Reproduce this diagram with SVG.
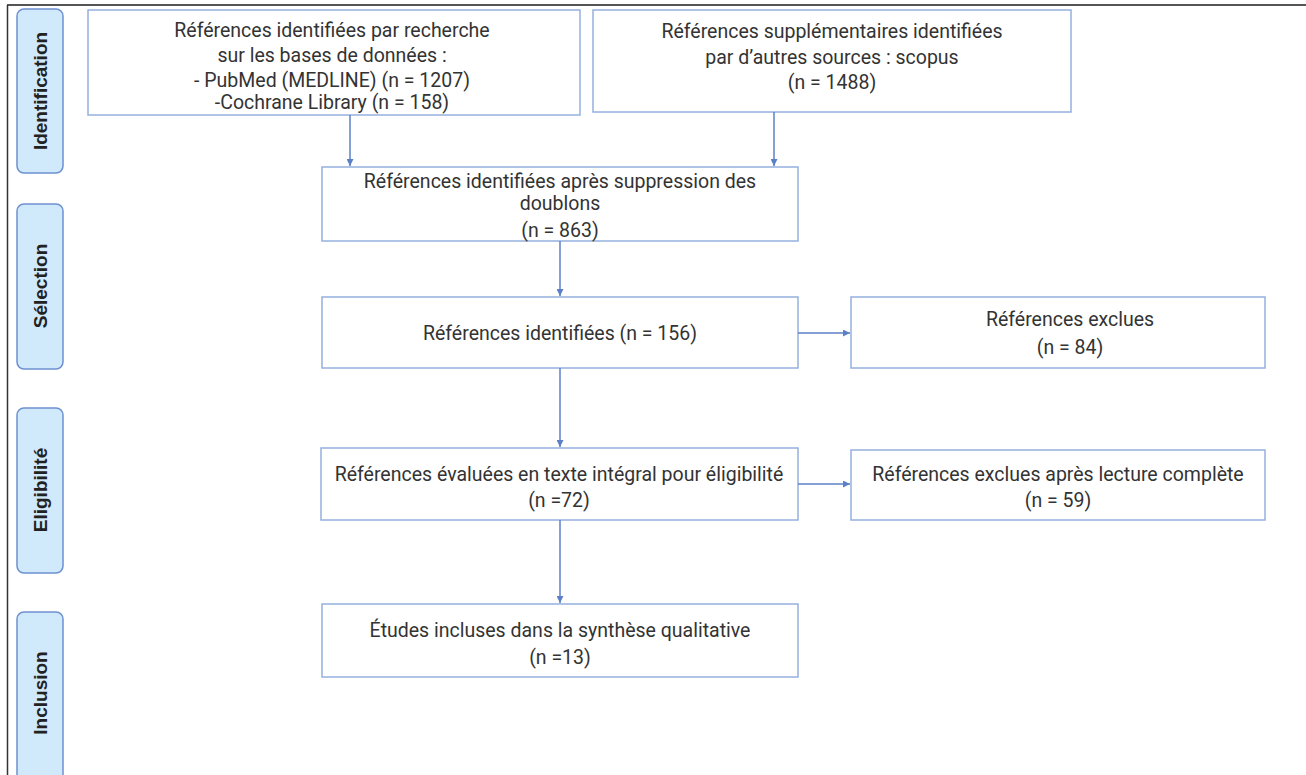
<svg xmlns="http://www.w3.org/2000/svg" width="1306" height="775" viewBox="0 0 1306 775">
<defs>
<style>
.box{fill:#fff;stroke:#95b0de;stroke-width:1.5}
.lab{fill:#d0e9fb;stroke:#6d90d2;stroke-width:1.5}
.t{font-family:Roboto,"Liberation Sans",sans-serif;font-size:19.5px;fill:#333;text-anchor:middle}
.v{font-family:"Liberation Sans",Arial,sans-serif;font-size:19px;font-weight:bold;fill:#222;text-anchor:middle}
.c{stroke:#5b80c8;stroke-width:1.5;fill:none;marker-end:url(#ah)}
</style>
<marker id="ah" viewBox="0 0 10 10" refX="10" refY="5" markerWidth="7" markerHeight="7" orient="auto" markerUnits="userSpaceOnUse">
<path d="M0,0 L10,5 L0,10 z" fill="#5b80c8"/>
</marker>
</defs>
<rect width="1306" height="775" fill="#fff"/>
<line x1="7" y1="5" x2="1306" y2="5" stroke="#555" stroke-width="2"/>
<line x1="7.5" y1="5" x2="7.5" y2="775" stroke="#333" stroke-width="1.5"/>

<g id="lab-identification">
<rect class="lab" x="17" y="9" width="46" height="164" rx="7"/>
<text class="v" transform="translate(47,91) rotate(-90)">Identification</text>
</g>
<g id="lab-selection">
<rect class="lab" x="17" y="204" width="46" height="165" rx="7"/>
<text class="v" transform="translate(47,286) rotate(-90)">Sélection</text>
</g>
<g id="lab-eligibilite">
<rect class="lab" x="17" y="408" width="46" height="165" rx="7"/>
<text class="v" transform="translate(47,490) rotate(-90)">Eligibilité</text>
</g>
<g id="lab-inclusion">
<rect class="lab" x="17" y="612" width="46" height="175" rx="7"/>
<text class="v" transform="translate(47,693) rotate(-90)">Inclusion</text>
</g>

<g id="n1">
<rect class="box" x="88" y="10" width="492" height="105"/>
<text class="t" x="332" y="37">Références identifiées par recherche</text>
<text class="t" x="332" y="62">sur les bases de données :</text>
<text class="t" x="332" y="87">- PubMed (MEDLINE) (n = 1207)</text>
<text class="t" x="332" y="109">-Cochrane Library (n = 158)</text>
</g>
<g id="n2">
<rect class="box" x="593" y="10" width="478" height="102"/>
<text class="t" x="832" y="38">Références supplémentaires identifiées</text>
<text class="t" x="832" y="64">par d’autres sources : scopus</text>
<text class="t" x="832" y="89">(n = 1488)</text>
</g>
<g id="n3">
<rect class="box" x="322" y="167" width="476" height="74"/>
<text class="t" x="560" y="188">Références identifiées après suppression des</text>
<text class="t" x="560" y="210">doublons</text>
<text class="t" x="560" y="237">(n = 863)</text>
</g>
<g id="n4">
<rect class="box" x="322" y="297" width="476" height="71"/>
<text class="t" x="560" y="340">Références identifiées (n = 156)</text>
</g>
<g id="n5">
<rect class="box" x="851" y="297" width="414" height="71"/>
<text class="t" x="1070" y="326">Références exclues</text>
<text class="t" x="1070" y="354">(n = 84)</text>
</g>
<g id="n6">
<rect class="box" x="321" y="448" width="477" height="72"/>
<text class="t" x="559" y="481">Références évaluées en texte intégral pour éligibilité</text>
<text class="t" x="559" y="507">(n =72)</text>
</g>
<g id="n7">
<rect class="box" x="851" y="450" width="414" height="70"/>
<text class="t" x="1058" y="481">Références exclues après lecture complète</text>
<text class="t" x="1058" y="507">(n = 59)</text>
</g>
<g id="n8">
<rect class="box" x="322" y="604" width="476" height="73"/>
<text class="t" x="560" y="637">Études incluses dans la synthèse qualitative</text>
<text class="t" x="560" y="664">(n =13)</text>
</g>

<g id="connectors">
<line class="c" x1="350" y1="115" x2="350" y2="166"/>
<line class="c" x1="774" y1="112" x2="774" y2="166"/>
<line class="c" x1="560" y1="241" x2="560" y2="296"/>
<line class="c" x1="798" y1="333" x2="850" y2="333"/>
<line class="c" x1="560" y1="368" x2="560" y2="447"/>
<line class="c" x1="798" y1="484" x2="850" y2="484"/>
<line class="c" x1="560" y1="520" x2="560" y2="603"/>
</g>
</svg>
